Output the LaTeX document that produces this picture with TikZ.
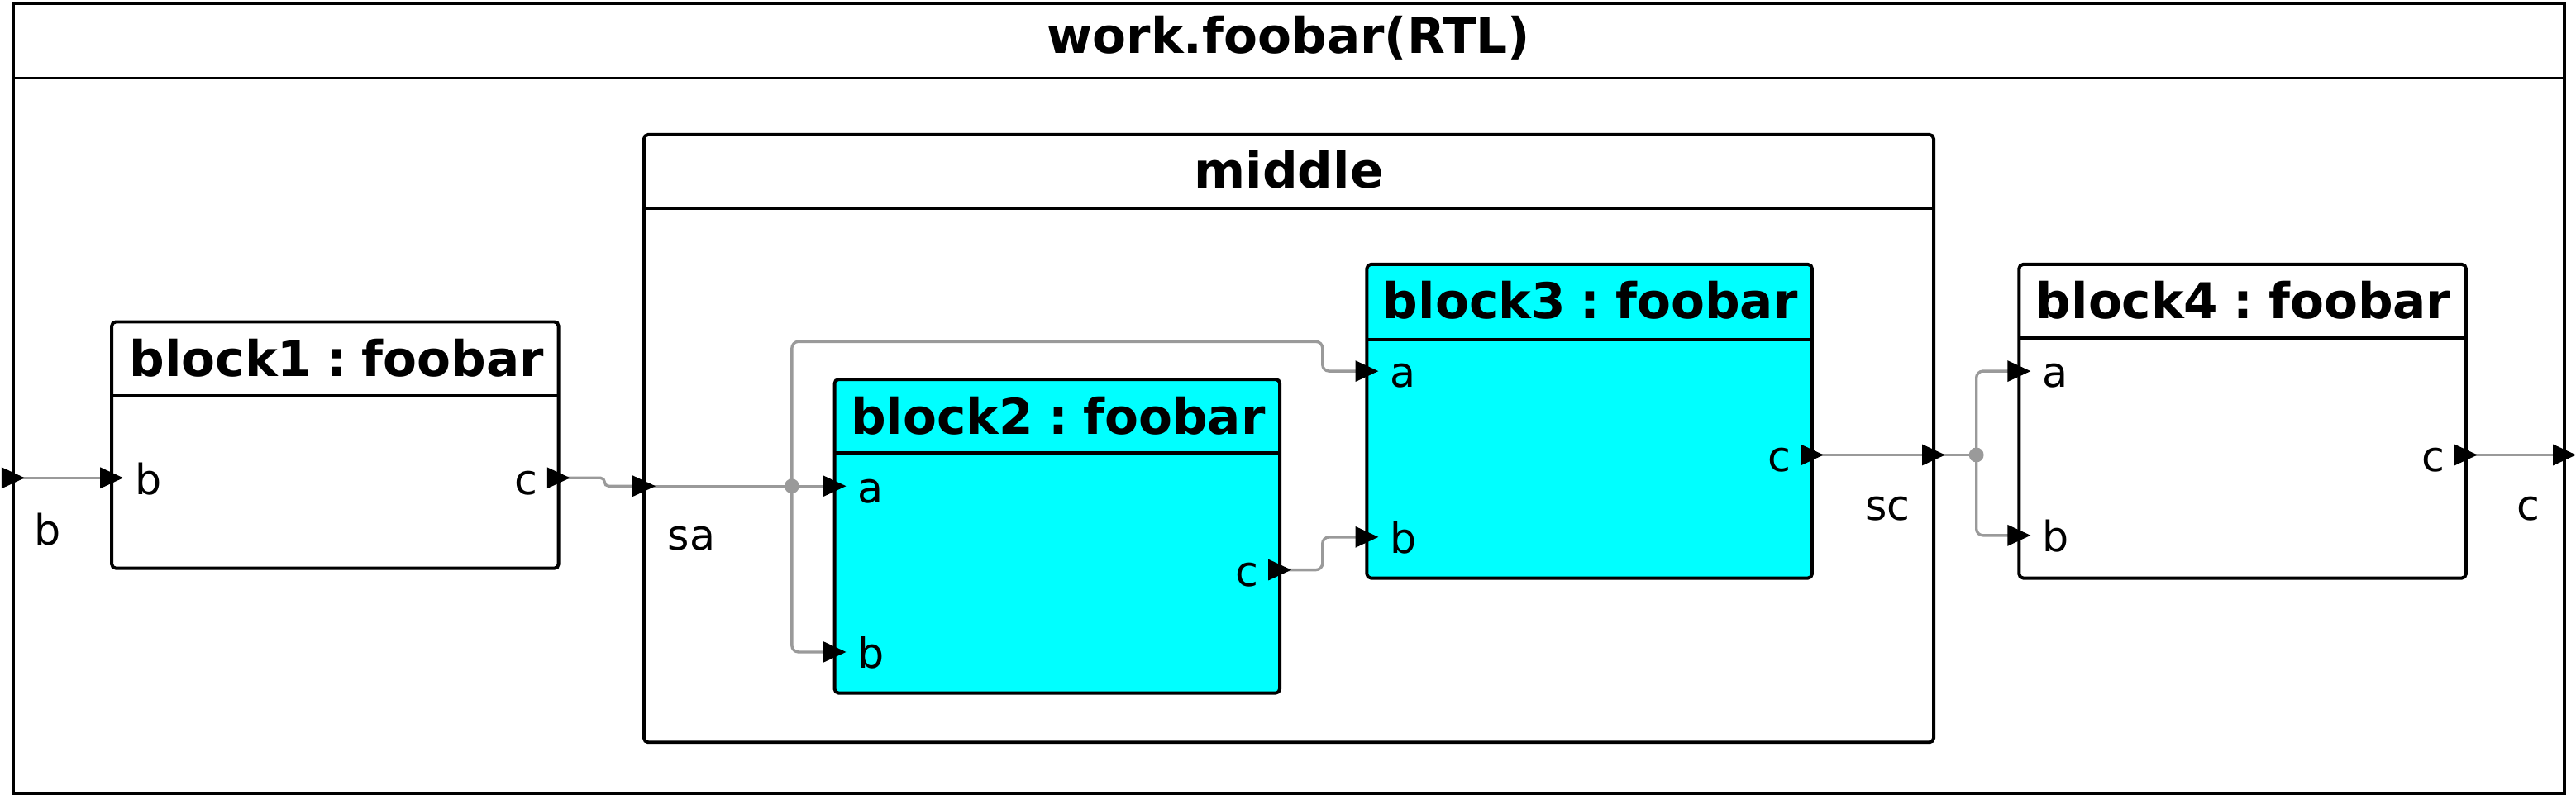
\documentclass[tikz,border=0pt]{standalone}
\usepackage{fontspec}
\setmainfont{DejaVu Sans}
\usetikzlibrary{calc}
\definecolor{wiregray}{HTML}{9A9A9A}
\definecolor{blkcyan}{HTML}{00FFFF}
\tikzset{
  frame/.style={draw=black, line width=1.9pt, inner sep=0pt, outer sep=0pt, anchor=north west},
  blk/.style={draw=black, line width=2pt, rounded corners=2.5pt, inner sep=0pt, outer sep=0pt, anchor=north west},
  divider/.style={draw=black, line width=2pt},
  wire/.style={draw=wiregray, line width=1.7pt, rounded corners=4pt},
  ttl/.style={font=\bfseries\fontsize{30}{36}\selectfont, inner sep=0pt},
  plbl/.style={font=\fontsize{25.5}{30}\selectfont, inner sep=0pt},
  lbl/.style={font=\fontsize{25.5}{30}\selectfont, inner sep=0pt, anchor=base},
  jdot/.style={circle, fill=wiregray, inner sep=0pt, minimum size=9pt},
}
\newcommand\parrow[1]{\fill[black] (#1) ++(-7,-6.5) -- ++(14,6.5) -- ++(-14,6.5) -- cycle;}
\newcommand\tsp{\hspace{0.31em}}
\begin{document}
\begin{tikzpicture}[x=1pt,y=-1pt]
\useasboundingbox (0,0) rectangle (1568,484);
% outer frame
\node[frame, minimum width=1553pt, minimum height=481pt] (top) at (8,2) {};
\draw[divider, line width=1.9pt] (top.north west) ++(0,45.5) -- ++(1553,0);
\node[ttl] (topt) at (784.5,23) {work.foobar(RTL)};

% block1
\node[blk, fill=white, minimum width=272pt, minimum height=150pt] (b1) at (68,196) {};
\draw[divider] (b1.north west) ++(0,45) -- ++(272,0);
\node[ttl] (b1t) at (205,218) {block1\tsp:\tsp foobar};

% middle
\node[blk, fill=white, minimum width=785pt, minimum height=370pt] (mid) at (392,82) {};
\draw[divider] (mid.north west) ++(0,45) -- ++(785,0);
\node[ttl] (midt) at (784.5,103.5) {middle};

% block2
\node[blk, fill=blkcyan, minimum width=271pt, minimum height=191pt] (b2) at (508,231) {};
\draw[divider] (b2.north west) ++(0,45) -- ++(271,0);
\node[ttl] (b2t) at (644,253) {block2\tsp:\tsp foobar};

% block3
\node[blk, fill=blkcyan, minimum width=271pt, minimum height=191pt] (b3) at (832,161) {};
\draw[divider] (b3.north west) ++(0,46) -- ++(271,0);
\node[ttl] (b3t) at (968,183) {block3\tsp:\tsp foobar};

% block4
\node[blk, fill=white, minimum width=272pt, minimum height=191pt] (b4) at (1229,161) {};
\draw[divider] (b4.north west) ++(0,45) -- ++(272,0);
\node[ttl] (b4t) at (1365.5,183) {block4\tsp:\tsp foobar};

% port coordinates
\coordinate (pb) at (8,291);
\coordinate (pc) at (1561,277);
\coordinate (b1b) at (68,291);
\coordinate (b1c) at (340,291);
\coordinate (msa) at (392,296);
\coordinate (msc) at (1177,277);
\coordinate (b2a) at (508,296);
\coordinate (b2b) at (508,397);
\coordinate (b2c) at (779,347);
\coordinate (b3a) at (832,226);
\coordinate (b3b) at (832,327);
\coordinate (b3c) at (1103,277);
\coordinate (b4a) at (1229,226);
\coordinate (b4b) at (1229,326);
\coordinate (b4c) at (1501,277);
\coordinate (j1) at (482,296);
\coordinate (j2) at (1203,277);

% wires
\draw[wire] (pb) -- (b1b);
\draw[wire, rounded corners=2.5pt] (b1c) -- (368,291) -- (368,296) -- (msa);
\draw[wire] (msa) -- (b2a);
\draw[wire] (j1) |- (805,208) |- (b3a);
\draw[wire] (j1) |- (b2b);
\draw[wire] (b2c) -| (805,327) -- (b3b);
\draw[wire] (b3c) -- (msc);
\draw[wire] (msc) -- (j2);
\draw[wire] (j2) |- (b4a);
\draw[wire] (j2) |- (b4b);
\draw[wire] (b4c) -- (pc);
\node[jdot] (j1d) at (j1) {};
\node[jdot] (j2d) at (j2) {};

% port arrows
\parrow{pb}\parrow{pc}
\parrow{b1b}\parrow{b1c}
\parrow{msa}\parrow{msc}
\parrow{b2a}\parrow{b2b}\parrow{b2c}
\parrow{b3a}\parrow{b3b}\parrow{b3c}
\parrow{b4a}\parrow{b4b}\parrow{b4c}

% port labels
\node[plbl, anchor=base west] (l1b) at (82,301) {b};
\node[plbl, anchor=base east] (l1c) at (327.5,301) {c};
\node[plbl, anchor=base west] (l2a) at (522,306) {a};
\node[plbl, anchor=base west] (l2b) at (522,407) {b};
\node[plbl, anchor=base east] (l2c) at (766.5,357) {c};
\node[plbl, anchor=base west] (l3a) at (846,236) {a};
\node[plbl, anchor=base west] (l3b) at (846,337) {b};
\node[plbl, anchor=base east] (l3c) at (1090.5,287) {c};
\node[plbl, anchor=base west] (l4a) at (1243,236) {a};
\node[plbl, anchor=base west] (l4b) at (1243,336) {b};
\node[plbl, anchor=base east] (l4c) at (1488.5,287) {c};

% net labels
\node[lbl] (nb) at (29,332) {b};
\node[lbl] (nsa) at (421,335) {sa};
\node[lbl] (nsc) at (1149,317) {sc};
\node[lbl] (nc) at (1539,317) {c};
\end{tikzpicture}
\end{document}
